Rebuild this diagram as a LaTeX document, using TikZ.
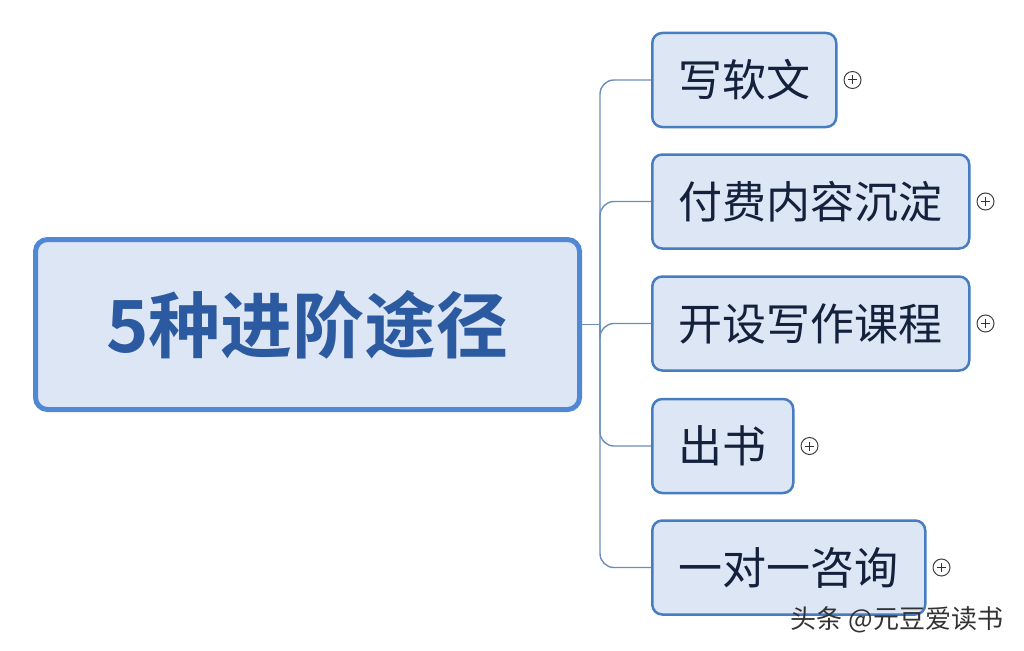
\documentclass[tikz,border=0pt]{standalone}
\usepackage{xcolor}
\usepackage{fontspec}
\newfontfamily\cjk{Noto Sans CJK SC}
\newfontfamily\cjkbold{Noto Sans CJK SC Bold}
\usepackage{tikz}
\usetikzlibrary{positioning, calc}

\definecolor{boxfill}{HTML}{DDE6F4}
\definecolor{rootline}{HTML}{5088D6}
\definecolor{rootink}{HTML}{2C5AA0}
\definecolor{leafline}{HTML}{467CC2}
\definecolor{leafink}{HTML}{14213D}
\definecolor{branch}{HTML}{6B8DB9}

\begin{document}
\begin{tikzpicture}[x=1pt, y=-1pt,
  rootbox/.style={draw=rootline, line width=5pt, fill=boxfill, rounded corners=12pt,
    minimum width=544pt, minimum height=170pt, inner sep=0pt,
    font=\cjkbold\fontsize{72}{80}\selectfont, text=rootink},
  leafbox/.style={draw=leafline, line width=2.5pt, fill=boxfill, rounded corners=10pt,
    minimum height=94pt, inner sep=0pt, anchor=west,
    font=\cjk\fontsize{44}{50}\selectfont, text=leafink},
  link/.style={draw=branch, line width=1.4pt, rounded corners=14pt},
  expander/.style={circle, draw=black!75, line width=1pt, minimum size=17pt, inner sep=0pt, fill=white}
]
  % Canvas
  \useasboundingbox (0,0) rectangle (1024,650);

  % Central topic
  \node[rootbox] (root) at (307.5,324.5) {5种进阶途径};

  % Subtopics
  \node[leafbox, minimum width=184pt] (w1) at (651,80) {写软文};
  \node[leafbox, minimum width=317pt] (w2) at (651,201.5) {付费内容沉淀};
  \node[leafbox, minimum width=317pt] (w3) at (651,323.5) {开设写作课程};
  \node[leafbox, minimum width=141pt] (w4) at (651,446) {出书};
  \node[leafbox, minimum width=273pt] (w5) at (651,567.5) {一对一咨询};

  % Branches
  \coordinate (hub) at ($(root.east)+(18,0)$);
  \draw[branch, line width=1.4pt] (root.east) -- (hub);
  \foreach \k in {1,...,5}
    \draw[link] (hub) |- (w\k.west);

  % Collapse markers
  \foreach \k in {1,...,5} {
    \node[expander, right=6pt of w\k.east] (p\k) {};
    \draw[black!80, line width=1pt] ($(p\k)+(-4.5,0)$) -- ($(p\k)+(4.5,0)$)
      ($(p\k)+(0,-4.5)$) -- ($(p\k)+(0,4.5)$);
  }

  % Watermark
  \node[font=\cjk\fontsize{26}{30}\selectfont, text=black!80] (mark) at (897,620) {头条 @元豆爱读书};
\end{tikzpicture}
\end{document}
